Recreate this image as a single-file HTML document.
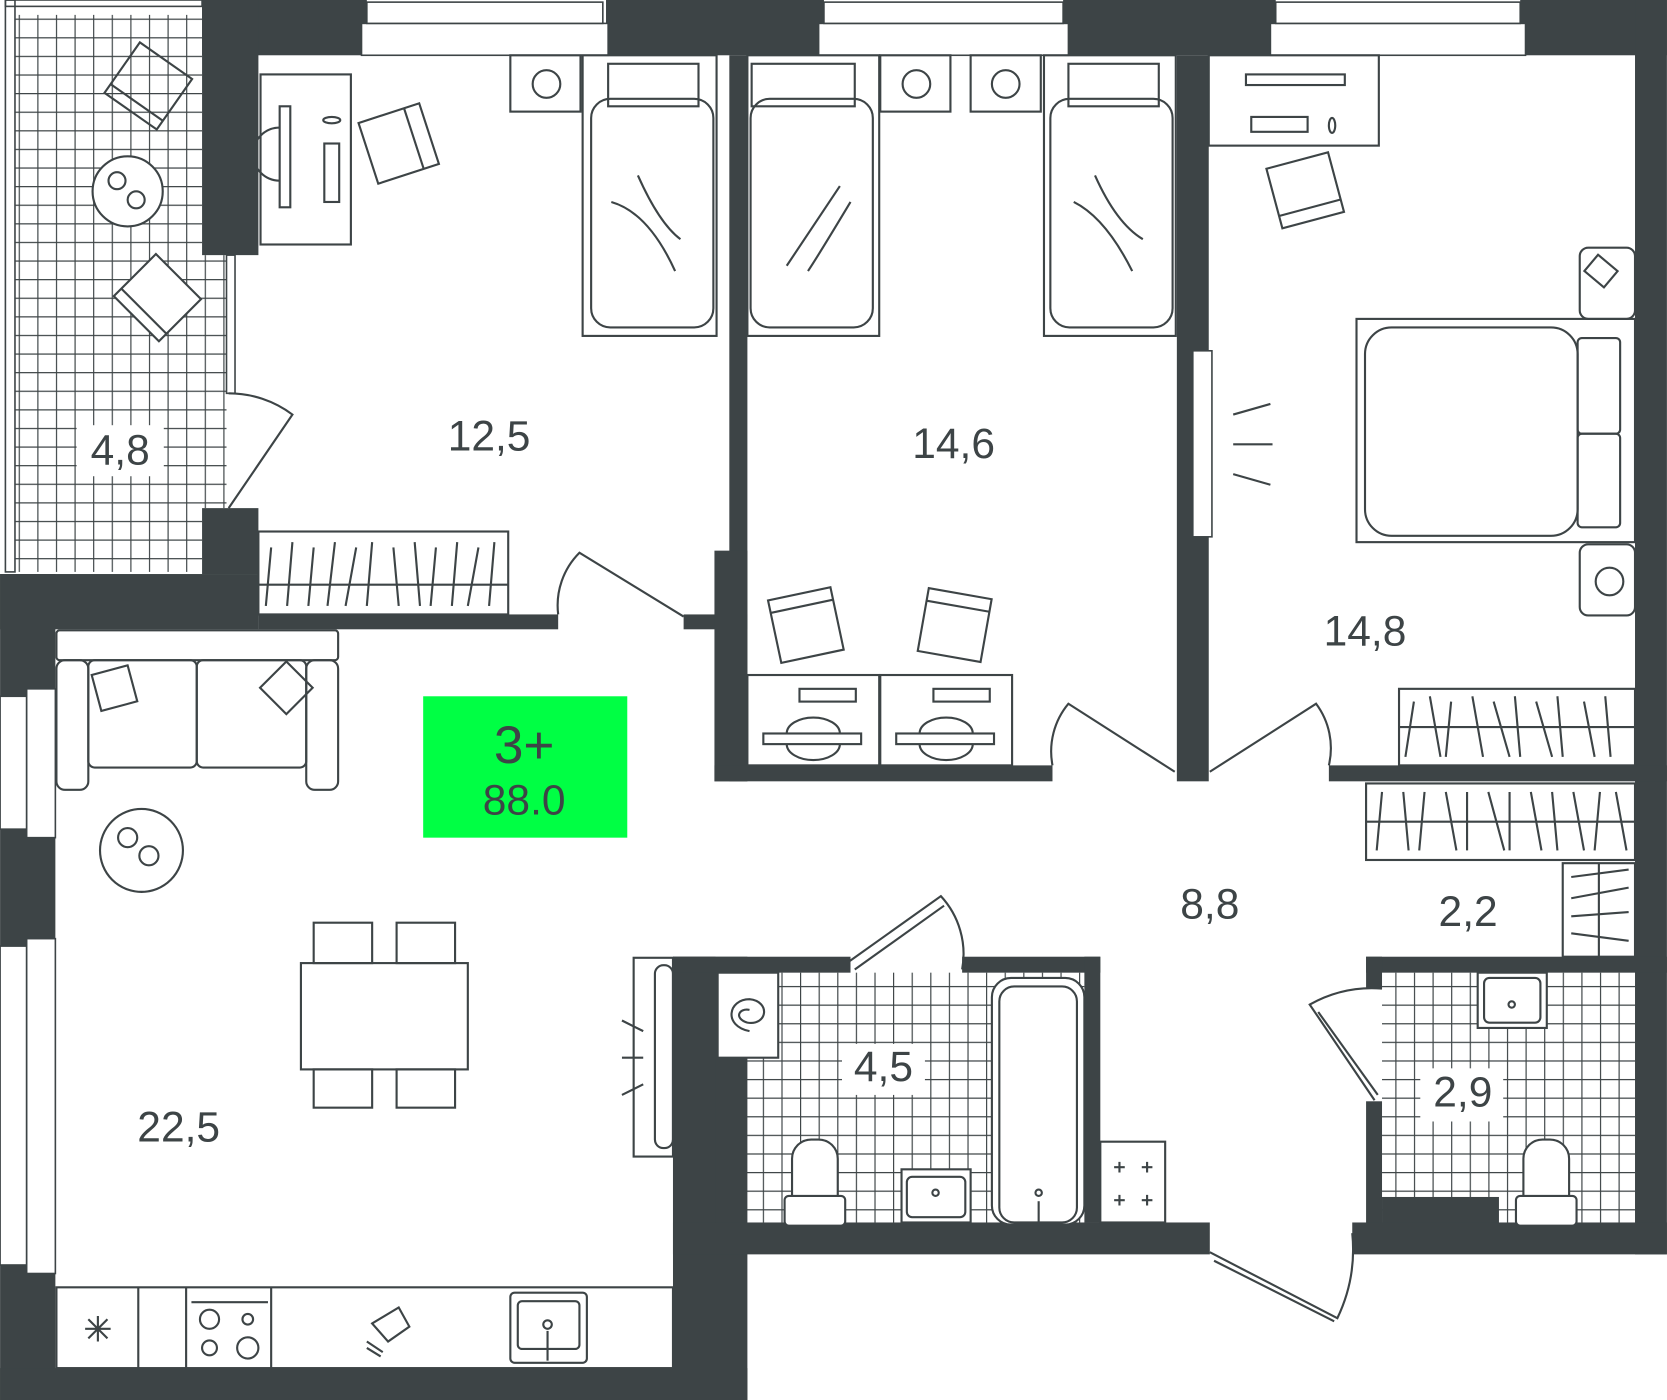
<!DOCTYPE html>
<html><head><meta charset="utf-8"><style>
html,body{margin:0;padding:0;background:#fff;width:1667px;height:1400px;overflow:hidden}
svg{display:block}
text{font-family:"Liberation Sans",sans-serif;fill:#3d4446}
</style></head><body>
<svg width="1667" height="1400" viewBox="0 0 1568 1317" xmlns="http://www.w3.org/2000/svg">
<defs>
<pattern id="tile" width="17.5" height="17.5" patternUnits="userSpaceOnUse">
<path d="M0 0H17.5M0 0V17.5" stroke="#3d4446" stroke-width="2.2" fill="none"/>
</pattern>
</defs>
<rect width="1568" height="1317" fill="#fff"/>
<!-- tiles -->
<rect x="14" y="14" width="176" height="524" fill="url(#tile)"/>
<rect x="190" y="240" width="23" height="238" fill="url(#tile)"/>
<rect x="673" y="915" width="347" height="235" fill="url(#tile)"/>
<rect x="1300" y="915" width="238" height="235" fill="url(#tile)"/>
<rect x="5" y="0" width="9" height="538" fill="none" stroke="#3d4446" stroke-width="1.5"/>
<rect x="5" y="0" width="185" height="6" fill="none" stroke="#3d4446" stroke-width="1.5"/>
<g fill="#3d4446">
<rect x="190" y="0" width="155" height="52"/>
<rect x="570" y="0" width="205" height="52"/>
<rect x="1000" y="0" width="200" height="52"/>
<rect x="1430" y="0" width="138" height="52"/>
<rect x="190" y="0" width="53" height="240"/>
<rect x="190" y="478" width="53" height="62"/>
<rect x="0" y="540" width="243" height="52"/>
<rect x="243" y="578" width="282" height="14"/>
<rect x="643" y="578" width="60" height="14"/>
<rect x="1538" y="0" width="30" height="1180"/>
<rect x="0" y="540" width="52" height="777"/>
<rect x="0" y="1287" width="703" height="30"/>
<rect x="633" y="900" width="70" height="417"/>
<rect x="686" y="52" width="17" height="683"/>
<rect x="672" y="518" width="31" height="217"/>
<rect x="672" y="720" width="318" height="15"/>
<rect x="1107" y="52" width="30" height="683"/>
<rect x="1250" y="720" width="318" height="15"/>
<rect x="633" y="900" width="40" height="280"/>
<rect x="633" y="900" width="167" height="15"/>
<rect x="905" y="900" width="130" height="15"/>
<rect x="1020" y="900" width="15" height="250"/>
<rect x="633" y="1150" width="505" height="30"/>
<rect x="1285" y="900" width="283" height="15"/>
<rect x="1285" y="900" width="15" height="30"/>
<rect x="1285" y="1036" width="15" height="116"/>
<rect x="1300" y="1126" width="110" height="26"/>
<rect x="1272" y="1150" width="296" height="30"/>
</g>
<g fill="#fff" stroke="#3d4446" stroke-width="1.5">
<rect x="340" y="22" width="232" height="30"/><rect x="345" y="2" width="222" height="20"/>
<rect x="770" y="22" width="235" height="30"/><rect x="775" y="2" width="225" height="20"/>
<rect x="1195" y="22" width="240" height="30"/><rect x="1200" y="2" width="230" height="20"/>
<rect x="0" y="655" width="25" height="125"/><rect x="25" y="648" width="27" height="140"/>
<rect x="0" y="890" width="25" height="300"/><rect x="25" y="883" width="27" height="315"/>
<rect x="213" y="240" width="8" height="130"/>
<rect x="1122" y="330" width="18" height="175"/>
</g>
<g fill="none" stroke="#3d4446" stroke-width="2">
<g transform="rotate(35 140 80)"><rect x="110" y="52" width="60" height="58"/><line x1="110" y1="100" x2="170" y2="100"/></g>
<circle cx="120" cy="180" r="33" fill="#fff"/><circle cx="110" cy="170" r="8"/><circle cx="128" cy="188" r="8"/>
<g transform="rotate(45 148 280)"><rect x="118" y="252" width="60" height="56" fill="#fff"/><line x1="118" y1="298" x2="178" y2="298"/></g>
<rect x="245" y="70" width="85" height="160"/>
<rect x="263" y="100" width="10" height="95"/><path d="M263 120 A25 25 0 0 0 263 170"/>
<rect x="305" y="135" width="14" height="55"/><ellipse cx="312" cy="113" rx="8" ry="3"/>
<g transform="rotate(-18 375 135)"><rect x="345" y="105" width="60" height="60"/><line x1="390" y1="105" x2="390" y2="165"/></g>
<rect x="480" y="52" width="66" height="53"/><circle cx="514" cy="79" r="13"/>
<rect x="548" y="52" width="126" height="264"/><rect x="572" y="60" width="85" height="40"/>
<rect x="556" y="93" width="115" height="215" rx="18"/>
<path d="M575 190 Q610 200 635 255M600 165 Q620 210 640 225"/>
<rect x="243" y="500" width="235" height="78"/><line x1="243" y1="550" x2="478" y2="550"/>
<path d="M255 515 L250 570M275 510 L270 570M295 515 L290 570M315 510 L308 570M335 515 L325 570M350 510 L345 570M370 515 L375 570M390 510 L395 570M410 515 L405 570M430 510 L425 570M450 515 L440 570M465 510 L460 570"/>
<path d="M215 478 L275 390 A100 100 0 0 0 215 370"/>
<path d="M525 578 A70 70 0 0 1 545 520 L643 580"/>
<rect x="703" y="52" width="124" height="264"/><rect x="707" y="60" width="97" height="40"/>
<rect x="706" y="93" width="115" height="215" rx="18"/>
<path d="M790 175 Q760 220 740 250M800 190 Q770 240 760 255"/>
<rect x="828" y="52" width="66" height="53"/><circle cx="862" cy="79" r="13"/>
<rect x="913" y="52" width="66" height="53"/><circle cx="946" cy="79" r="13"/>
<rect x="982" y="52" width="124" height="264"/><rect x="1005" y="60" width="85" height="40"/>
<rect x="988" y="93" width="115" height="215" rx="18"/>
<path d="M1010 190 Q1040 205 1065 255M1030 165 Q1050 210 1075 225"/>
<g transform="rotate(-12 758 588)"><rect x="728" y="558" width="60" height="60"/><line x1="728" y1="570" x2="788" y2="570"/></g>
<g transform="rotate(10 898 588)"><rect x="868" y="558" width="60" height="60"/><line x1="868" y1="570" x2="928" y2="570"/></g>
<rect x="703" y="635" width="124" height="85"/><rect x="828" y="635" width="124" height="85"/>
<rect x="752" y="648" width="53" height="12"/><rect x="878" y="648" width="53" height="12"/>
<rect x="718" y="690" width="92" height="10"/><rect x="843" y="690" width="92" height="10"/>
<path d="M740 690 A25 15 0 0 1 790 690M740 700 A25 15 0 0 0 790 700M865 690 A25 15 0 0 1 915 690M865 700 A25 15 0 0 0 915 700"/>
<path d="M990 720 A70 70 0 0 1 1005 662 L1105 726"/>
<rect x="1137" y="52" width="160" height="85"/>
<rect x="1172" y="70" width="93" height="10"/><rect x="1177" y="110" width="53" height="14"/>
<ellipse cx="1253" cy="118" rx="3" ry="7"/>
<g transform="rotate(-15 1228 180)"><rect x="1198" y="150" width="60" height="58"/><line x1="1198" y1="196" x2="1258" y2="196"/></g>
<rect x="1486" y="233" width="52" height="67" rx="8"/><rect x="1494" y="245" width="24" height="20" transform="rotate(40 1506 255)"/>
<rect x="1276" y="300" width="262" height="210"/>
<rect x="1284" y="308" width="200" height="196" rx="25"/>
<rect x="1484" y="318" width="40" height="90" rx="4"/><rect x="1484" y="408" width="40" height="88" rx="4"/>
<rect x="1486" y="512" width="52" height="67" rx="8"/><circle cx="1514" cy="547" r="13"/>
<path d="M1160 390 L1195 380M1160 418 L1197 418M1160 446 L1195 456"/>
<rect x="1316" y="648" width="222" height="72"/><line x1="1316" y1="684" x2="1538" y2="684"/>
<path d="M1330 660 L1322 712M1345 655 L1355 712M1365 660 L1360 712M1385 655 L1395 712M1405 660 L1420 712M1425 655 L1430 712M1445 660 L1460 712M1465 655 L1470 712M1490 660 L1500 712M1510 655 L1515 712"/>
<path d="M1250 720 A70 70 0 0 0 1238 662 L1138 726"/>
<rect x="1285" y="737" width="253" height="72"/><line x1="1285" y1="773" x2="1538" y2="773"/>
<path d="M1300 745 L1295 800M1320 745 L1325 800M1340 745 L1335 800M1360 745 L1370 800M1380 745 L1380 800M1400 745 L1415 800M1420 745 L1420 800M1440 745 L1450 800M1460 745 L1465 800M1480 745 L1490 800M1505 745 L1500 800M1520 745 L1530 800"/>
<rect x="1470" y="812" width="68" height="88"/><line x1="1504" y1="812" x2="1504" y2="900"/>
<path d="M1478 825 L1532 818M1478 845 L1532 835M1478 862 L1532 858M1478 878 L1532 885"/>
<rect x="53" y="593" width="265" height="28" rx="3"/>
<rect x="53" y="621" width="30" height="122" rx="8"/><rect x="288" y="621" width="30" height="122" rx="8"/>
<rect x="83" y="621" width="102" height="101" rx="6"/><rect x="185" y="621" width="103" height="101" rx="6"/>
<rect x="90" y="630" width="35" height="35" transform="rotate(-15 107 647)"/>
<rect x="252" y="630" width="35" height="35" transform="rotate(45 270 647)"/>
<circle cx="133" cy="800" r="39"/><circle cx="120" cy="788" r="9"/><circle cx="140" cy="805" r="9"/>
<rect x="283" y="906" width="157" height="100"/>
<rect x="295" y="868" width="55" height="38"/><rect x="373" y="868" width="55" height="38"/>
<rect x="295" y="1006" width="55" height="36"/><rect x="373" y="1006" width="55" height="36"/>
<rect x="596" y="901" width="37" height="187"/><rect x="616" y="908" width="17" height="172" rx="8"/>
<path d="M585 960 L605 970M585 995 L605 995M585 1030 L605 1020"/>
<rect x="53" y="1211" width="580" height="76"/>
<line x1="130" y1="1211" x2="130" y2="1287"/><line x1="175" y1="1211" x2="175" y2="1287"/><line x1="255" y1="1211" x2="255" y2="1287"/>
<path d="M80 1250 L104 1250M92 1238 L92 1262M83 1241 L101 1259M101 1241 L83 1259"/>
<circle cx="197" cy="1241" r="9"/><circle cx="233" cy="1241" r="5"/><circle cx="197" cy="1268" r="7"/><circle cx="233" cy="1268" r="10"/>
<path d="M180 1225 H252"/>
<path d="M350 1245 L375 1230 L385 1248 L365 1262Z M345 1262 L360 1272M345 1268 L358 1276"/>
<rect x="480" y="1216" width="72" height="66" rx="4"/><rect x="487" y="1224" width="58" height="45" rx="4"/>
<circle cx="515" cy="1246" r="4"/><line x1="515" y1="1252" x2="515" y2="1280"/>
<path d="M798 905 L885 843 A80 80 0 0 1 905 912"/>
<path d="M804 912 L888 852"/>
<rect x="675" y="915" width="57" height="80" fill="#fff"/>
<path d="M705 970 C680 965 685 940 705 940 C725 942 722 965 703 962 C690 958 695 948 705 950"/>
<rect x="933" y="920" width="87" height="232" rx="18" fill="#fff"/><rect x="940" y="928" width="73" height="222" rx="14"/>
<circle cx="977" cy="1122" r="3"/><line x1="977" y1="1130" x2="977" y2="1150"/>
<rect x="848" y="1100" width="65" height="50" fill="#fff"/><rect x="853" y="1107" width="55" height="38" rx="5"/>
<circle cx="880" cy="1122" r="3"/>
<rect x="745" y="1072" width="43" height="80" rx="18" fill="#fff"/><rect x="738" y="1125" width="57" height="28" rx="4" fill="#fff"/>
<rect x="1035" y="1074" width="61" height="76" fill="#fff"/>
<path d="M1048 1098h10M1053 1093v10M1074 1098h10M1079 1093v10M1048 1129h10M1053 1124v10M1074 1129h10M1079 1124v10"/>
<rect x="1390" y="915" width="65" height="52" fill="#fff"/><rect x="1396" y="920" width="53" height="42" rx="5"/><circle cx="1422" cy="945" r="3"/>
<rect x="1433" y="1072" width="43" height="80" rx="18" fill="#fff"/><rect x="1426" y="1125" width="57" height="28" rx="4" fill="#fff"/>
<path d="M1300 930 A120 120 0 0 0 1232 945 L1293 1035"/><path d="M1240 952 L1296 1030"/>
<path d="M1138 1178 L1258 1240 A150 150 0 0 0 1272 1160"/><path d="M1142 1186 L1255 1243"/>
</g>
<g fill="#fff">
<rect x="72" y="400" width="82" height="48"/><rect x="792" y="982" width="78" height="48"/><rect x="1336" y="1005" width="78" height="50"/>
</g>
<g font-size="40" text-anchor="middle">
<text x="113" y="437">4,8</text>
<text x="460" y="424">12,5</text>
<text x="897" y="431">14,6</text>
<text x="1284" y="607">14,8</text>
<text x="168" y="1074">22,5</text>
<text x="1138" y="864">8,8</text>
<text x="1381" y="871">2,2</text>
<text x="831" y="1017">4,5</text>
<text x="1376" y="1041">2,9</text>
</g>
<rect x="398" y="655" width="192" height="133" fill="#00ff44"/>
<text x="493" y="718" font-size="50" text-anchor="middle">3+</text>
<text x="493" y="766" font-size="40" text-anchor="middle">88.0</text>
</svg>
</body></html>
